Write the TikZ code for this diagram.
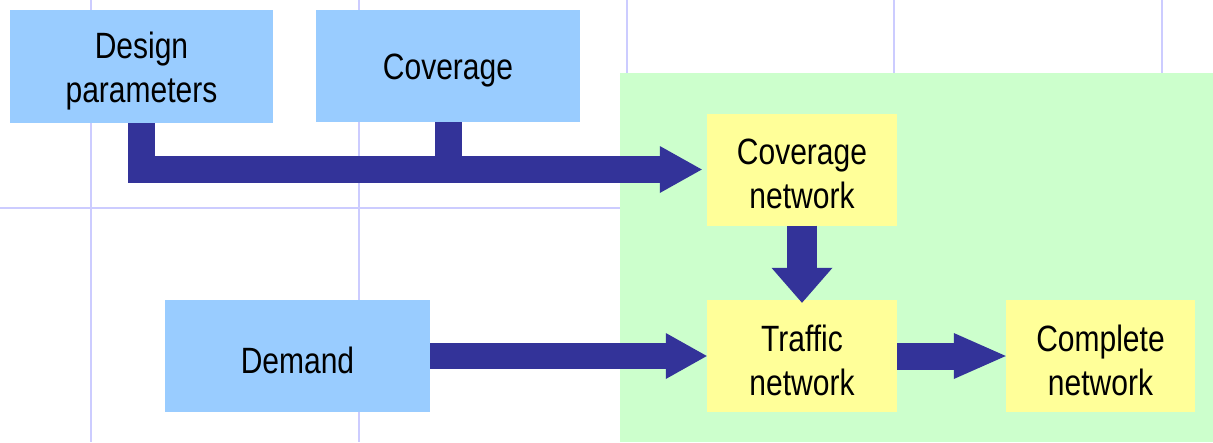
\documentclass[tikz,border=0pt]{standalone}
\usepackage{graphicx}
\usepackage{fontspec}
\setmainfont{Liberation Sans}
\usetikzlibrary{arrows.meta}

\definecolor{inblue}{HTML}{99CCFF}
\definecolor{netyellow}{HTML}{FFFF99}
\definecolor{zonegreen}{HTML}{CCFFCC}
\definecolor{arrowblue}{HTML}{333399}
\definecolor{gridlilac}{HTML}{CCCCFF}

% slide text is drawn a little taller than it is wide, and sits a bit low
\newcommand{\tallword}[1]{\raisebox{-4.5pt}[\height][\depth]{\scalebox{1}[1.22]{#1}}}

\begin{document}
\begin{tikzpicture}[x=1pt, y=-1pt]
	\tikzset{box/.style={rectangle, inner sep=0pt, align=center, text=black,
			font=\fontsize{30}{44}\selectfont},
		inbox/.style={box, fill=inblue},
		netbox/.style={box, fill=netyellow, minimum width=190pt, minimum height=112pt},
		fatarrow/.style={draw=arrowblue, line cap=butt, line join=miter}};

	\useasboundingbox (0,0) rectangle (1213,442);

	% grid of the slide
	\foreach \x in {91, 359, 627, 894, 1162}{
		\draw[gridlilac, line width=2pt] (\x,0) -- (\x,442);
	}
	\draw[gridlilac, line width=2pt] (0,208) -- (1213,208);

	% network zone
	\fill[zonegreen] (620,73) rectangle (1213,442);

	% inputs
	\node[inbox, minimum width=263pt, minimum height=113pt] (design) at (141.5,66.5) {\tallword{Design}\\\tallword{parameters}};
	\node[inbox, minimum width=264pt, minimum height=112pt] (coverage) at (448,66) {\tallword{Coverage}};
	\node[inbox, minimum width=265pt, minimum height=112pt] (demand) at (297.5,356) {\tallword{Demand}};

	% networks
	\node[netbox] (covnet) at (802,169.5) {\tallword{Coverage}\\\tallword{network}};
	\node[netbox] (traffic) at (802,356) {\tallword{Traffic}\\\tallword{network}};
	\node[netbox, minimum width=189pt] (complete) at (1100.5,356) {\tallword{Complete}\\\tallword{network}};

	% connectors
	\draw[fatarrow, line width=27pt] (coverage.south) -- (coverage.south |- covnet.west);
	\draw[fatarrow, line width=27pt, -{Triangle[length=42pt, width=47pt, line width=0pt]}]
		(design.south) |- ([xshift=-5pt]covnet.west);
	\draw[fatarrow, line width=30pt, -{Triangle[length=35pt, width=61pt, line width=0pt]}]
		(covnet.south) -- ([yshift=-3pt]traffic.north);
	\draw[fatarrow, line width=26pt, -{Triangle[length=41pt, width=46pt, line width=0pt]}]
		(demand.east) -- (traffic.west);
	\draw[fatarrow, line width=27pt, -{Triangle[length=52pt, width=46pt, line width=0pt]}]
		(traffic.east) -- (complete.west);

\end{tikzpicture}
\end{document}
